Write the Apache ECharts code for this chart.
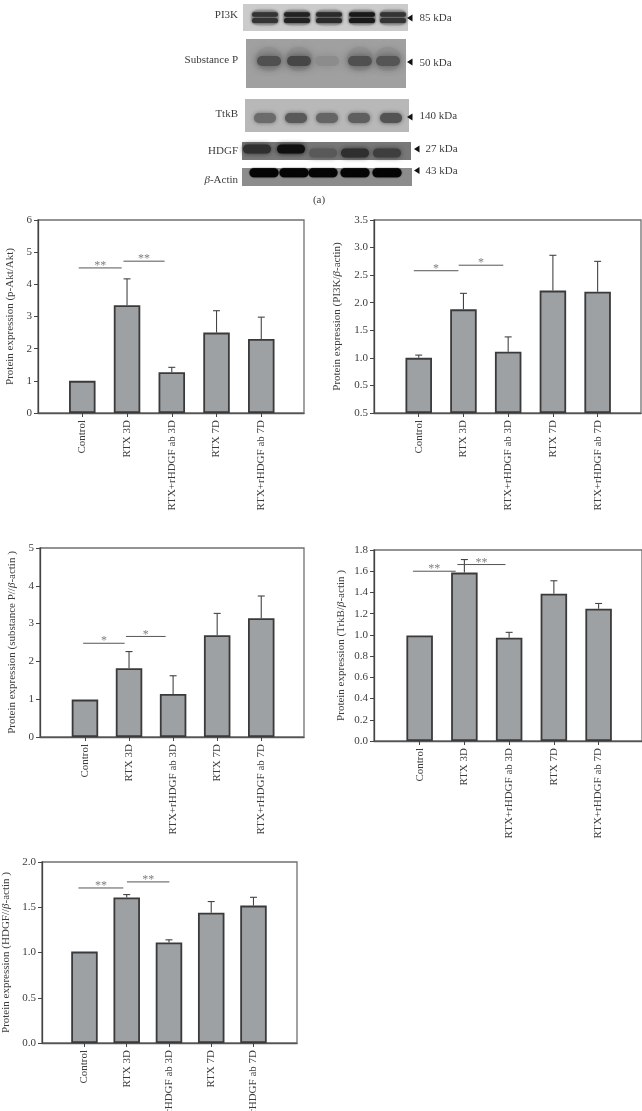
<!DOCTYPE html>
<html>
<head>
<meta charset="utf-8">
<style>html,body{margin:0;padding:0;background:#fff}#c{width:642px;height:1111px}</style>
<script src="https://cdn.jsdelivr.net/npm/echarts@6/dist/echarts.min.js"></script>
</head>
<body>
<div id="c"></div>
<script>
var categories = ['Control', 'RTX 3D', 'RTX+rHDGF ab 3D', 'RTX 7D', 'RTX+rHDGF ab 7D'];

var pAktValues = [1.0, 3.35, 1.27, 2.5, 2.3];
var pAktErrorTops = [null, 4.17, 1.42, 3.18, 2.98];
var pAktBrackets = [[-0.08, 0.88, 4.51, '**'], [0.92, 1.84, 4.72, '**']];

var pi3kValues = [1.0, 1.88, 1.11, 2.22, 2.2];
var pi3kErrorTops = [1.05, 2.17, 1.38, 2.86, 2.75];
var pi3kBrackets = [[-0.11, 0.887, 2.58, '*'], [0.894, 1.89, 2.68, '*']];

var substancePValues = [0.99, 1.82, 1.14, 2.69, 3.14];
var substancePErrorTops = [null, 2.26, 1.62, 3.27, 3.73];
var substancePBrackets = [[-0.04, 0.9, 2.48, '*'], [0.93, 1.83, 2.66, '*']];

var trkbValues = [0.995, 1.587, 0.974, 1.387, 1.246];
var trkbErrorTops = [null, 1.71, 1.024, 1.51, 1.296];
var trkbBrackets = [[-0.15, 0.806, 1.6, '**'], [0.844, 1.92, 1.663, '**']];

var hdgfValues = [1.01, 1.607, 1.11, 1.44, 1.518];
var hdgfErrorTops = [null, 1.64, 1.14, 1.563, 1.61];
var hdgfBrackets = [[-0.143, 0.92, 1.713, '**'], [1.006, 2.01, 1.78, '**']];

// band strength per lane in each blot
var blotLabels = ['PI3K', 'Substance P', 'TtkB', 'HDGF', 'Actin'];
var blotSizes = ['85 kDa', '50 kDa', '140 kDa', '27 kDa', '43 kDa'];
var pi3kBands = [0.85, 0.95, 0.9, 1, 0.85];
var substancePBands = [0.8, 0.9, 0.2, 0.8, 0.75];
var trkbBands = [0.65, 0.8, 0.7, 0.75, 0.85];
var hdgfBands = [0.7, 1, 0.3, 0.7, 0.55];
var actinBands = [1, 1, 1, 1, 1];

var FONT = '"Liberation Serif","Times New Roman",serif';
var TEXT = '#3c3c3c';

var panels = [
  {title: 'Protein expression (p-Akt/Akt)', v: pAktValues, e: pAktErrorTops, b: pAktBrackets, max: 6, step: 1,
   left: 38, right: 304, top: 220, bottom: 413, xMin: -0.99, xMax: 4.955, gap: 22, dec: 0},
  {title: 'Protein expression (PI3K/{i|β}-actin)', v: pi3kValues, e: pi3kErrorTops, b: pi3kBrackets, max: 3.5, step: 0.5,
   left: 374, right: 641, top: 220, bottom: 413, xMin: -1.0, xMax: 4.97, gap: 31, dec: 1, zeroLabel: '0.5'},
  {title: 'Protein expression (substance P//{i|β}-actin )', v: substancePValues, e: substancePErrorTops, b: substancePBrackets, max: 5, step: 1,
   left: 40, right: 304, top: 548, bottom: 737, xMin: -1.02, xMax: 4.97, gap: 22, dec: 0},
  {title: 'Protein expression (TrkB/{i|β}-actin )', v: trkbValues, e: trkbErrorTops, b: trkbBrackets, max: 1.8, step: 0.2,
   left: 374, right: 642, top: 550, bottom: 741, xMin: -1.02, xMax: 4.97, gap: 27, dec: 1},
  {title: 'Protein expression (HDGF//{i|β}-actin )', v: hdgfValues, e: hdgfErrorTops, b: hdgfBrackets, max: 2, step: 0.5,
   left: 42, right: 297, top: 862, bottom: 1043, xMin: -1.005, xMax: 5.03, gap: 30, dec: 1}
];

var grids = [], xAxes = [], yAxes = [], series = [];
panels.forEach(function (p, i) {
  grids.push({left: p.left, top: p.top, width: p.right - p.left, height: p.bottom - p.top, outerBoundsMode: 'none',
    show: true, borderColor: '#707070', borderWidth: 1.3, backgroundColor: 'transparent'});
  xAxes.push({
    type: 'value', gridIndex: i, min: p.xMin, max: p.xMax,
    splitLine: {show: false},
    axisLine: {onZero: false, lineStyle: {color: '#555', width: 1.3}},
    axisTick: {customValues: [0, 1, 2, 3, 4], length: 4, lineStyle: {color: '#444'}},
    axisLabel: {customValues: [0, 1, 2, 3, 4], rotate: 90, margin: 7, fontFamily: FONT, fontSize: 11, color: TEXT,
      showMinLabel: true, showMaxLabel: true,
      formatter: function (v) { return categories[Math.round(v)]; }}
  });
  yAxes.push({
    type: 'value', gridIndex: i, min: 0, max: p.max, interval: p.step,
    name: p.title, nameLocation: 'middle', nameGap: p.gap, nameRotate: 90, nameMoveOverlap: false,
    nameTextStyle: {fontFamily: FONT, fontSize: 11, color: TEXT,
      rich: {i: {fontFamily: FONT, fontSize: 11, fontStyle: 'italic', color: TEXT}}},
    splitLine: {show: false},
    axisLine: {onZero: false, lineStyle: {color: '#444', width: 1.3}},
    axisTick: {length: 4, lineStyle: {color: '#444'}},
    axisLabel: {margin: 6, fontFamily: FONT, fontSize: 11, color: TEXT,
      formatter: function (v) {
        if (v === 0 && p.zeroLabel) return p.zeroLabel;
        return v.toFixed(p.dec);
      }}
  });
  series.push({
    type: 'bar', xAxisIndex: i, yAxisIndex: i, barWidth: 26.5,
    data: p.v.map(function (v, k) { return [k, v]; }),
    itemStyle: {color: '#9da1a4', borderColor: '#3a3a3a', borderWidth: 1.8},
    silent: true, z: 2
  });
  series.push({
    type: 'custom', xAxisIndex: i, yAxisIndex: i, silent: true, z: 1, clip: false,
    data: p.v.map(function (v, k) { return [k, v, p.e[k]]; }),
    renderItem: function (params, api) {
      if (api.value(2) == null || isNaN(api.value(2))) return;
      var a = api.coord([api.value(0), api.value(1)]);
      var b = api.coord([api.value(0), api.value(2)]);
      var st = {stroke: '#444', lineWidth: 1.1, fill: null};
      return {type: 'group', children: [
        {type: 'line', shape: {x1: a[0], y1: a[1], x2: b[0], y2: b[1]}, style: st},
        {type: 'line', shape: {x1: b[0] - 3.5, y1: b[1], x2: b[0] + 3.5, y2: b[1]}, style: st}
      ]};
    }
  });
  series.push({
    type: 'custom', xAxisIndex: i, yAxisIndex: i, silent: true, z: 3, clip: false,
    data: p.b,
    encode: {x: [0, 1], y: 2},
    renderItem: function (params, api) {
      var a = api.coord([api.value(0), api.value(2)]);
      var b = api.coord([api.value(1), api.value(2)]);
      return {type: 'group', children: [
        {type: 'line', shape: {x1: a[0], y1: a[1], x2: b[0], y2: b[1]}, style: {stroke: '#555', lineWidth: 1}},
        {type: 'text', style: {x: (a[0] + b[0]) / 2, y: a[1] - 2, text: api.value(3), fill: '#808080',
          font: '12px ' + FONT, align: 'center', verticalAlign: 'middle'}}
      ]};
    }
  });
});

// western blot strips
var strips = [
  {bands: pi3kBands, x0: 243, x1: 408, y0: 4, y1: 31, bg: '#cbcbcb', lanes: [265, 297, 329, 362, 393], ys: [14.5, 20.5], w: 13, h: [2.2, 2.6], blur: 3, ink: 25,
   halo: {cy: 17.5, ry: 8, w: 14, col: '#a4a4a4', blur: 3}},
  {bands: substancePBands, x0: 246, x1: 406, y0: 39, y1: 88, bg: '#a0a0a0', lanes: [269, 299, 327, 360, 388], ys: [61], w: 12, h: [5], blur: 8, ink: 60,
   halo: {cy: 59, ry: 12, w: 13, col: '#929292', blur: 6}},
  {bands: trkbBands, x0: 245, x1: 409, y0: 99, y1: 132, bg: '#b8b8b8', lanes: [265, 296, 327, 359, 391], ys: [118], w: 11, h: [5], blur: 4, ink: 65},
  {bands: hdgfBands, x0: 242, x1: 411, y0: 142, y1: 160, bg: '#787878', lanes: [257, 291, 323, 355, 387], ys: [149, 149, 153, 153, 153], w: 14, h: [4.5], blur: 5, ink: 15, perLane: true},
  {bands: actinBands, x0: 242, x1: 412, y0: 168, y1: 186, bg: '#8c8c8c', lanes: [264, 294, 323, 355, 387], ys: [172.8], w: 14.5, h: [4.5], blur: 1.5, ink: 5}
];
var graphics = [];
function pill(cx, cy, rx, ry, col, blur) {
  graphics.push({type: 'rect', silent: true,
    shape: {x: cx - rx, y: cy - ry, width: rx * 2, height: ry * 2, r: ry},
    style: {fill: col, shadowBlur: blur, shadowColor: col}});
}
strips.forEach(function (s) {
  graphics.push({type: 'rect', silent: true, shape: {x: s.x0, y: s.y0, width: s.x1 - s.x0, height: s.y1 - s.y0}, style: {fill: s.bg}});
  s.bands.forEach(function (strength, k) {
    if (s.halo && strength > 0.4) pill(s.lanes[k], s.halo.cy, s.halo.w, s.halo.ry, s.halo.col, s.halo.blur);
    var ys = s.perLane ? [s.ys[k]] : s.ys;
    ys.forEach(function (y, j) {
      var base = parseInt(s.bg.slice(1, 3), 16);
      var g = Math.round(base + (s.ink - base) * strength);
      pill(s.lanes[k], y, s.w, s.perLane ? s.h[0] : s.h[j], 'rgb(' + g + ',' + g + ',' + g + ')', s.blur);
    });
  });
});
function label(text, x, y, align) {
  graphics.push({type: 'text', silent: true, style: {x: x, y: y, text: text, fill: TEXT,
    font: '11px ' + FONT, align: align, verticalAlign: 'middle'}});
}
label(blotLabels[0], 238, 15, 'right');
label(blotLabels[1], 238, 60, 'right');
label(blotLabels[2], 238, 114, 'right');
label(blotLabels[3], 238, 151, 'right');
graphics.push({type: 'text', silent: true, style: {x: 238, y: 180, rich: {i: {font: 'italic 11px ' + FONT, fill: TEXT}, n: {font: '11px ' + FONT, fill: TEXT}},
  text: '{i|β}{n|-' + blotLabels[4] + '}', align: 'right', verticalAlign: 'middle'}});
label(blotSizes[0], 419.5, 18, 'left');
label(blotSizes[1], 419.5, 63, 'left');
label(blotSizes[2], 419.5, 116.5, 'left');
label(blotSizes[3], 425.5, 149, 'left');
label(blotSizes[4], 425.5, 171, 'left');
label('(a)', 319, 200, 'center');
[[407, 18], [407, 62], [407, 117], [414, 149], [414, 170.5]].forEach(function (t) {
  graphics.push({type: 'polygon', silent: true, shape: {points: [[t[0], t[1]], [t[0] + 5.5, t[1] - 3.5], [t[0] + 5.5, t[1] + 3.5]]}, style: {fill: '#111'}});
});

var chart = echarts.init(document.getElementById('c'), null, {renderer: 'canvas'});
chart.setOption({
  animation: false,
  backgroundColor: '#fff',
  textStyle: {fontFamily: FONT},
  grid: grids, xAxis: xAxes, yAxis: yAxes, series: series,
  graphic: {elements: graphics}
});
</script>
</body>
</html>
